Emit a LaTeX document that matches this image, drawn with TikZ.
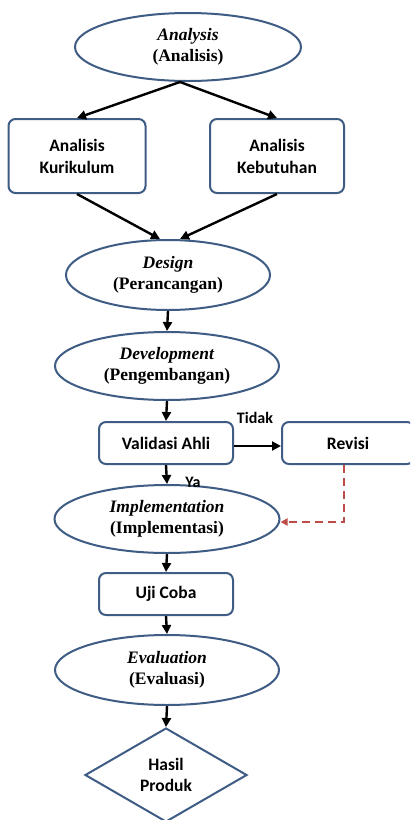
\documentclass[tikz,border=0pt]{standalone}
\usepackage{fontspec}
\setmainfont{Liberation Serif}
\newfontfamily\boxfont{Carlito}
\usetikzlibrary{shapes.geometric,arrows.meta}
\definecolor{edgeblue}{RGB}{62,92,132}
\definecolor{revred}{RGB}{190,75,72}
\begin{document}
\begin{tikzpicture}[x=1pt,y=-1pt,
 phase/.style={ellipse,draw=edgeblue,line width=2pt,inner sep=0pt,align=center,font=\fontsize{17.5}{21}\selectfont\bfseries},
 stepbox/.style={rectangle,rounded corners=7pt,draw=edgeblue,line width=2pt,inner sep=0pt,align=center,font=\boxfont\fontsize{17.5}{22}\selectfont\bfseries},
 flow/.style={-{Triangle[length=9pt,width=9pt]},line width=2.4pt,black},
 lbl/.style={font=\boxfont\fontsize{16}{18}\selectfont\bfseries,inner sep=0pt}]
\useasboundingbox (0,0) rectangle (410,820);
\clip (0,0) rectangle (410,820);
\fill[white] (0,0) rectangle (410,820);

\node[phase,minimum width=226pt,minimum height=68pt] (an) at (188,47) {\textit{Analysis}\\(Analisis)};
\node[stepbox,minimum width=137pt,minimum height=74pt] (kur) at (77,156) {Analisis\\Kurikulum};
\node[stepbox,minimum width=134pt,minimum height=74pt] (keb) at (277,156) {Analisis\\Kebutuhan};
\node[phase,minimum width=204pt,minimum height=70pt] (des) at (168,275) {\textit{Design}\\(Perancangan)};
\node[phase,minimum width=224pt,minimum height=68pt] (dev) at (167,366) {\textit{Development}\\(Pengembangan)};
\node[stepbox,minimum width=134pt,minimum height=42pt] (val) at (166,443) {Validasi Ahli};
\node[stepbox,minimum width=132pt,minimum height=42pt] (rev) at (348,443) {Revisi};
\node[phase,minimum width=225pt,minimum height=68pt] (imp) at (167,519) {\textit{Implementation}\\(Implementasi)};
\node[stepbox,minimum width=134pt,minimum height=42pt] (uji) at (166,594) {Uji Coba};
\node[phase,minimum width=224pt,minimum height=70pt] (eva) at (167,670) {\textit{Evaluation}\\(Evaluasi)};
\node[diamond,draw=edgeblue,line width=2pt,minimum width=162pt,minimum height=94pt,inner sep=0pt,align=center,font=\boxfont\fontsize{17.5}{21}\selectfont\bfseries] (has) at (166,775) {Hasil\\Produk};

\node[lbl] (tidak) at (255,418) {Tidak};
\node[lbl] (ya) at (193,482) {Ya};

\draw[flow] ([xshift=-8pt]an.south) -- (kur.north);
\draw[flow] ([xshift=-8pt]an.south) -- (keb.north);
\draw[flow] (kur.south) -- ([xshift=-8pt]des.north);
\draw[flow] (keb.south) -- ([xshift=12pt]des.north);
\draw[flow] (des.south) -- (dev.north);
\draw[flow] (dev.south) -- (val.north);
\draw[flow] ([yshift=-3pt]val.east) -- ([yshift=-3pt]rev.west);
\draw[flow] (val.south) -- (imp.north);
\draw[flow] (imp.south) -- (uji.north);
\draw[flow] (uji.south) -- (eva.north);
\draw[flow] (eva.south) -- (has.north);
\draw[revred,line width=2pt,dash pattern=on 8pt off 5pt,-{Triangle[length=7pt,width=7pt]}] ([xshift=-4pt]rev.south) |- ([yshift=-3pt]imp.east);
\end{tikzpicture}
\end{document}
